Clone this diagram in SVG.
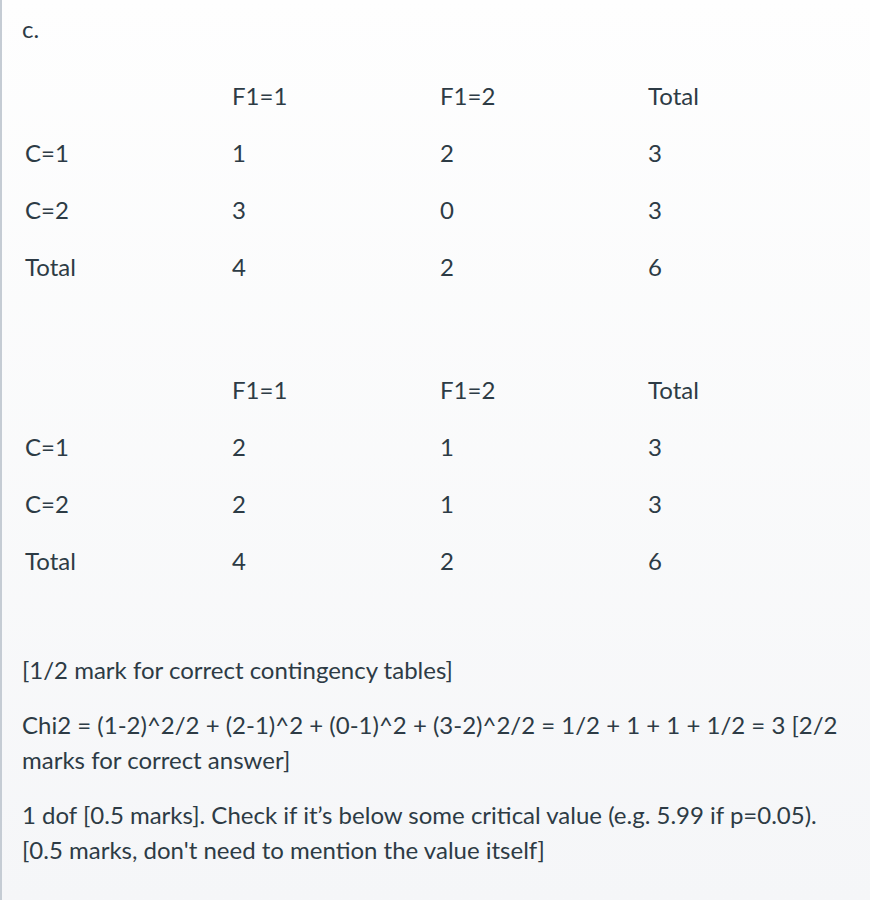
<svg xmlns="http://www.w3.org/2000/svg" width="870" height="900" viewBox="0 0 870 900">
<defs>
<linearGradient id="bg" x1="0" y1="0" x2="0" y2="1">
<stop offset="0" stop-color="#fefefe"/>
<stop offset="1" stop-color="#f5f6f8"/>
</linearGradient>
</defs>
<style>
text{font-family:Lato,"Liberation Sans",sans-serif;font-size:24px;fill:#2d3b45}
</style>
<rect x="0" y="0" width="870" height="900" fill="url(#bg)"/>
<rect x="0" y="0" width="2" height="900" fill="#c5ccd4"/>
<text x="22" y="38">c.</text>
<g id="table1">
<text x="232" y="105">F1=1</text><text x="440" y="105">F1=2</text><text x="648" y="105">Total</text>
<text x="25" y="162">C=1</text><text x="232" y="162">1</text><text x="440" y="162">2</text><text x="648" y="162">3</text>
<text x="25" y="219">C=2</text><text x="232" y="219">3</text><text x="440" y="219">0</text><text x="648" y="219">3</text>
<text x="25" y="276">Total</text><text x="232" y="276">4</text><text x="440" y="276">2</text><text x="648" y="276">6</text>
</g>
<g id="table2">
<text x="232" y="399">F1=1</text><text x="440" y="399">F1=2</text><text x="648" y="399">Total</text>
<text x="25" y="456">C=1</text><text x="232" y="456">2</text><text x="440" y="456">1</text><text x="648" y="456">3</text>
<text x="25" y="513">C=2</text><text x="232" y="513">2</text><text x="440" y="513">1</text><text x="648" y="513">3</text>
<text x="25" y="570">Total</text><text x="232" y="570">4</text><text x="440" y="570">2</text><text x="648" y="570">6</text>
</g>
<g id="notes">
<text x="22" y="679">[1/2 mark for correct contingency tables]</text>
<text x="22" y="734">Chi2 = (1-2)^2/2 + (2-1)^2 + (0-1)^2 + (3-2)^2/2 = 1/2 + 1 + 1 + 1/2 = 3 [2/2</text>
<text x="22" y="769">marks for correct answer]</text>
<text x="22" y="824">1 dof [0.5 marks]. Check if it’s below some critical value (e.g. 5.99 if p=0.05).</text>
<text x="22" y="859">[0.5 marks, don't need to mention the value itself]</text>
</g>
</svg>
